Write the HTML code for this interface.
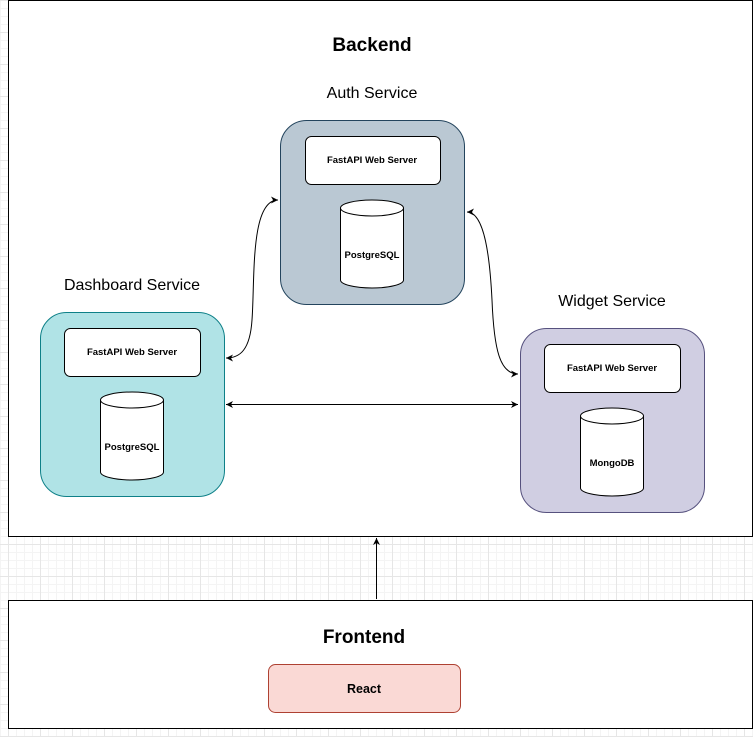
<!DOCTYPE html>
<html><head><style>
body{margin:0;width:753px;height:737px;overflow:hidden;background:#fff;
background-image:linear-gradient(#e6e6e6 1px,transparent 1px),linear-gradient(90deg,#e6e6e6 1px,transparent 1px),linear-gradient(#f4f4f4 1px,transparent 1px),linear-gradient(90deg,#f4f4f4 1px,transparent 1px);
background-size:32px 32px,32px 32px,8px 8px,8px 8px;background-position:8px 0,8px 0,0 0,0 0;}
</style></head><body>
<svg width="753" height="737" xmlns="http://www.w3.org/2000/svg" style="position:absolute;left:0;top:0" font-family="Liberation Sans, Arial, sans-serif">
<defs><marker id="a" markerWidth="8" markerHeight="8" refX="7" refY="4" orient="auto-start-reverse" markerUnits="userSpaceOnUse"><path d="M0,0.5 L7,4 L0,7.5 L2,4 Z" fill="#000"/></marker></defs>
<rect x="8.5" y="0.5" width="744" height="536" fill="#fff" stroke="#000"/>
<rect x="8.5" y="600.5" width="744" height="128" fill="#fff" stroke="#000"/>
<text x="372" y="51" font-size="19" font-weight="bold" text-anchor="middle">Backend</text>
<text x="364" y="643" font-size="19" font-weight="bold" text-anchor="middle">Frontend</text>
<rect x="268.5" y="664.5" width="192" height="48" rx="7" fill="#fad9d5" stroke="#ae4132"/>
<text x="364" y="693" font-size="12.5" font-weight="bold" text-anchor="middle">React</text>
<text x="372" y="98" font-size="16" text-anchor="middle">Auth Service</text>
<text x="132" y="290" font-size="16" text-anchor="middle">Dashboard Service</text>
<text x="612" y="306" font-size="16" text-anchor="middle">Widget Service</text>
<g font-size="9.5" font-weight="bold" text-anchor="middle">
<rect x="280.5" y="120.5" width="184" height="184" rx="26" fill="#bac8d3" stroke="#23445d"/>
<rect x="305.5" y="136.5" width="135" height="48" rx="6" fill="#fff" stroke="#000"/>
<text x="372" y="163">FastAPI Web Server</text>
<path d="M340.5,208 v72 a31.5,8 0 0 0 63,0 v-72 a31.5,8 0 0 0 -63,0 a31.5,8 0 0 0 63,0" fill="#fff" stroke="#000"/>
<text x="372" y="258">PostgreSQL</text>
<rect x="40.5" y="312.5" width="184" height="184" rx="26" fill="#b0e3e6" stroke="#0e8088"/>
<rect x="64.5" y="328.5" width="136" height="48" rx="6" fill="#fff" stroke="#000"/>
<text x="132" y="355">FastAPI Web Server</text>
<path d="M100.5,400 v72 a31.5,8 0 0 0 63,0 v-72 a31.5,8 0 0 0 -63,0 a31.5,8 0 0 0 63,0" fill="#fff" stroke="#000"/>
<text x="132" y="450">PostgreSQL</text>
<rect x="520.5" y="328.5" width="184" height="184" rx="26" fill="#d0cee2" stroke="#56517e"/>
<rect x="544.5" y="344.5" width="136" height="48" rx="6" fill="#fff" stroke="#000"/>
<text x="612" y="371">FastAPI Web Server</text>
<path d="M580.5,416 v72 a31.5,8 0 0 0 63,0 v-72 a31.5,8 0 0 0 -63,0 a31.5,8 0 0 0 63,0" fill="#fff" stroke="#000"/>
<text x="612" y="466">MongoDB</text>
</g>
<g fill="none" stroke="#000" stroke-width="1">
<path d="M376.5,599 V538" marker-end="url(#a)"/>
<path d="M226,404.5 H518" marker-start="url(#a)" marker-end="url(#a)"/>
<path d="M278,200 C250,200 255,280 252,320 C250,350 240,358 226,358" marker-start="url(#a)" marker-end="url(#a)"/>
<path d="M467,212 C485,212 490,260 492,300 C494,350 500,374 518,374" marker-start="url(#a)" marker-end="url(#a)"/>
</g>
</svg>
</body></html>
